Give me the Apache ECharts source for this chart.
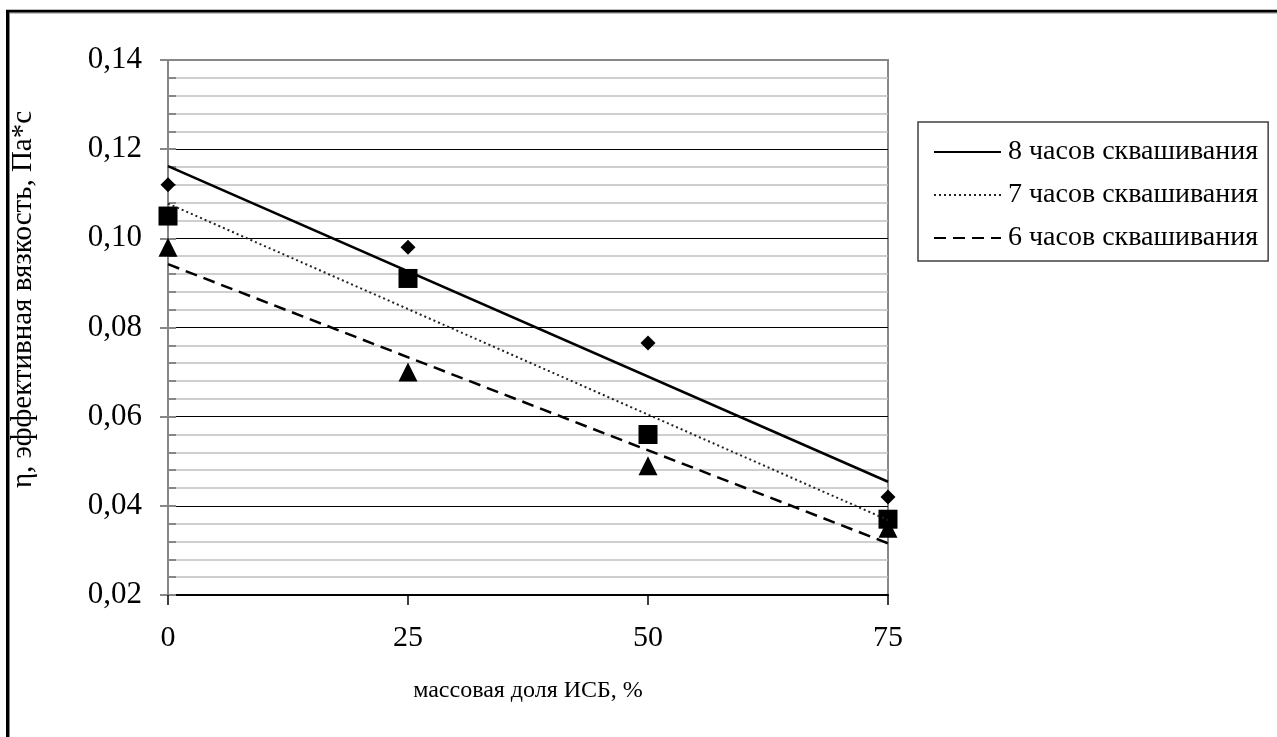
<!DOCTYPE html>
<html>
<head>
<meta charset="utf-8">
<script src="https://cdn.jsdelivr.net/npm/echarts@6/dist/echarts.min.js"></script>
<style>
  html, body { margin: 0; padding: 0; background: #fff; }
  #chart { width: 1277px; height: 737px; }
</style>
</head>
<body>
<div id="chart"></div>
<script>
// данные с графика
var xValues = [0, 25, 50, 75];
var hours8 = [0.112, 0.098, 0.0765, 0.042];
var hours7 = [0.105, 0.091, 0.056, 0.037];
var hours6 = [0.098, 0.070, 0.049, 0.035];
// линии тренда: значения в точках 0 и 75
var trendX = [0, 75];
var trend8 = [0.1162, 0.0454];
var trend7 = [0.1078, 0.0368];
var trend6 = [0.0942, 0.0316];
var yTicks = [0.02, 0.14, 0.02]; // min, max, шаг

var names = ['8 часов сквашивания', '7 часов сквашивания', '6 часов сквашивания'];
var serif = '"Liberation Serif", "Times New Roman", serif';

function pairs(xs, ys) {
    return xs.map(function (x, i) { return [x, ys[i]]; });
}

var chart = echarts.init(document.getElementById('chart'));

var option = {
    animation: false,
    backgroundColor: '#fff',
    textStyle: { fontFamily: serif, color: '#000' },
    grid: { left: 168, right: 389, top: 60, bottom: 142, show: true,
            borderColor: '#888', borderWidth: 2, backgroundColor: 'transparent' },
    graphic: [
        { type: 'rect', shape: { x: 7.5, y: 11.3, width: 1400, height: 1000 },
          style: { fill: 'none', stroke: '#000', lineWidth: 3 } },
        { type: 'line', shape: { x1: 9.5, y1: 13, x2: 9.5, y2: 737 },
          style: { stroke: '#888', lineWidth: 1 } },
        { type: 'line', shape: { x1: 9.5, y1: 13, x2: 1277, y2: 13 },
          style: { stroke: '#888', lineWidth: 1 } }
    ],
    legend: {
        orient: 'vertical',
        left: 918, top: 122,
        padding: [16, 10, 9, 15],
        borderColor: '#404040', borderWidth: 1.5,
        itemWidth: 67, itemHeight: 14, itemGap: 15,
        selectedMode: false,
        data: names,
        itemStyle: { opacity: 0 },
        textStyle: { fontFamily: serif, fontSize: 28, color: '#000', padding: [0, 0, 0, 2] }
    },
    xAxis: {
        type: 'value',
        min: 0, max: 75, interval: 25,
        name: 'массовая доля ИСБ, %',
        nameLocation: 'middle',
        nameGap: 84,
        nameTextStyle: { fontFamily: serif, fontSize: 24, color: '#000' },
        axisLine: { lineStyle: { color: '#000', width: 2 } },
        axisTick: { show: true, length: 10, lineStyle: { color: '#000', width: 1.5 } },
        axisLabel: { margin: 28, fontFamily: serif, fontSize: 30, color: '#000' },
        splitLine: { show: false }
    },
    yAxis: [{
        type: 'value',
        min: yTicks[0], max: yTicks[1], interval: yTicks[2],
        name: 'η, эффективная вязкость, Па*с',
        nameLocation: 'middle',
        nameGap: 130,
        nameTextStyle: { fontFamily: serif, fontSize: 29, color: '#000', padding: [0, 0, 0, 56] },
        axisLine: { show: true, lineStyle: { color: '#868686', width: 2 } },
        axisTick: { show: true, length: 8, lineStyle: { color: '#868686', width: 2 } },
        axisLabel: {
            margin: 26, fontFamily: serif, fontSize: 31, color: '#000',
            formatter: function (v) { return v.toFixed(2).replace('.', ','); }
        },
        splitLine: {
            show: true,
            lineStyle: { color: ['#000', '#000', '#000', '#000', '#000', '#000', '#888'], width: 1.2 }
        },
        minorTick: { show: false, splitNumber: 5 },
        minorSplitLine: { show: true, lineStyle: { color: '#c0c0c0', width: 1.5 } }
    }, {
        // второй экземпляр оси - только внутренние засечки
        type: 'value',
        position: 'left',
        min: yTicks[0], max: yTicks[1], interval: yTicks[2],
        axisLine: { show: false },
        axisLabel: { show: false },
        splitLine: { show: false },
        axisTick: { show: true, inside: true, length: 8, lineStyle: { color: '#868686', width: 2 } },
        minorTick: { show: true, splitNumber: 5, length: 8, lineStyle: { color: '#868686', width: 2 } }
    }],
    series: [
        {
            name: names[0], type: 'line', symbol: 'none', silent: true,
            data: pairs(trendX, trend8),
            itemStyle: { color: '#000' },
            lineStyle: { color: '#000', width: 2.5, type: 'solid' }
        },
        {
            name: names[1], type: 'line', symbol: 'none', silent: true,
            data: pairs(trendX, trend7),
            itemStyle: { color: '#222' },
            lineStyle: { color: '#222', width: 2, type: [2, 3] }
        },
        {
            name: names[2], type: 'line', symbol: 'none', silent: true,
            data: pairs(trendX, trend6),
            itemStyle: { color: '#000' },
            lineStyle: { color: '#000', width: 2.5, type: [12, 7] }
        },
        {
            type: 'scatter', symbol: 'diamond', symbolSize: [15, 15],
            data: pairs(xValues, hours8), itemStyle: { color: '#000', opacity: 1 }
        },
        {
            type: 'scatter', symbol: 'rect', symbolSize: 19,
            data: pairs(xValues, hours7), itemStyle: { color: '#000', opacity: 1 }
        },
        {
            type: 'scatter', symbol: 'triangle', symbolSize: 19,
            data: pairs(xValues, hours6), itemStyle: { color: '#000', opacity: 1 }
        }
    ]
};

chart.setOption(option);
</script>
</body>
</html>
